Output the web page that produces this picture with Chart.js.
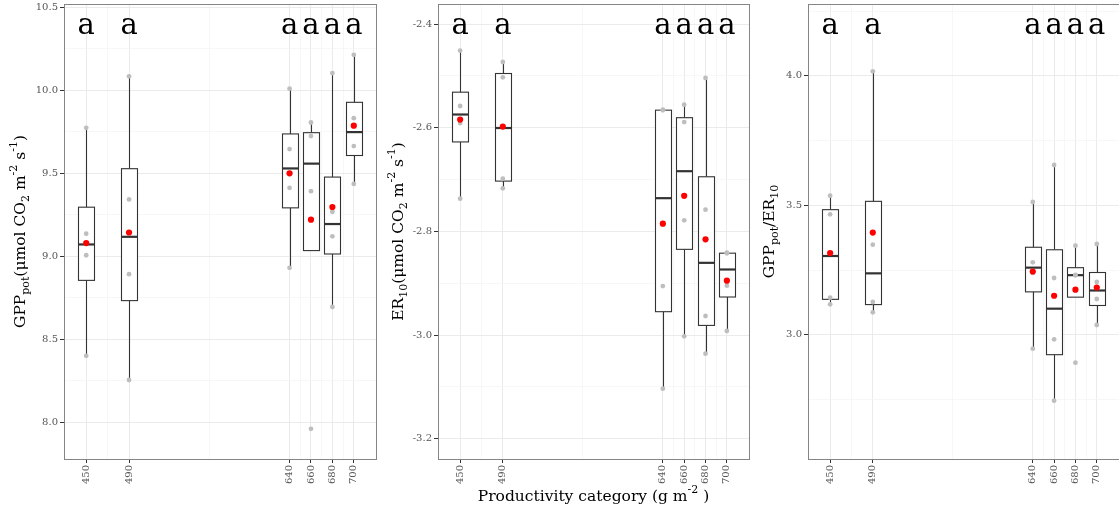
<!DOCTYPE html>
<html>
<head>
<meta charset="utf-8">
<script src="https://cdn.jsdelivr.net/npm/chart.js@4.4.0/dist/chart.umd.min.js"></script>
<style>
  body { margin: 0; background: #fff; overflow: hidden; width: 1119px; height: 512px; position: relative; }
  canvas { position: absolute; top: 0; }
</style>
</head>
<body>
<canvas id="gpp" width="380" height="512" style="left:0"></canvas>
<canvas id="er" width="375" height="512" style="left:380px"></canvas>
<canvas id="ratio" width="367" height="512" style="left:755px"></canvas>
<script>
// productivity categories (g m-2) and the breaks between them
const categories = [450, 490, 640, 660, 680, 700];
const minorBreaksX = [470, 565, 650, 670, 690];
const groupLetters = ['a', 'a', 'a', 'a', 'a', 'a'];

// four plots per category
const gppPot = [
  [9.774, 9.136, 9.006, 8.400],
  [10.084, 9.342, 8.892, 8.254],
  [10.010, 9.646, 9.412, 8.930],
  [9.806, 9.724, 9.392, 7.960],
  [10.104, 9.268, 9.120, 8.694],
  [10.214, 9.832, 9.664, 9.436]
];
const er10 = [
  [-2.4514, -2.5582, -2.5910, -2.7370],
  [-2.4733, -2.5029, -2.6984, -2.7170],
  [-2.5653, -2.5665, -2.9055, -3.1035],
  [-2.5556, -2.5891, -2.7788, -3.0026],
  [-2.5042, -2.7582, -2.9633, -3.0360],
  [-2.8413, -2.8424, -2.9048, -2.9923]
];
const gppEr = [
  [3.5373, 3.4653, 3.1435, 3.1178],
  [4.0174, 3.3481, 3.1268, 3.0869],
  [3.5129, 3.2799, 3.2390, 2.9466],
  [3.6557, 3.2194, 2.9826, 2.7458],
  [3.3443, 3.2310, 3.2298, 2.8925],
  [3.3507, 3.2040, 3.1384, 3.0380]
];

const SERIF = '"DejaVu Serif", "Liberation Serif", serif';
const boxHalf = 7.5;
Chart.defaults.font.family = SERIF;
Chart.defaults.animation = false;

function quantile(sorted, p) {
  const h = (sorted.length - 1) * p, lo = Math.floor(h);
  if (lo + 1 >= sorted.length) return sorted[lo];
  return sorted[lo] + (h - lo) * (sorted[lo + 1] - sorted[lo]);
}

function boxStats(vals) {
  const s = vals.slice().sort((a, b) => a - b);
  const q1 = quantile(s, 0.25), med = quantile(s, 0.5), q3 = quantile(s, 0.75);
  const iqr = q3 - q1;
  const inside = s.filter(v => v >= q1 - 1.5 * iqr && v <= q3 + 1.5 * iqr);
  return { q1, med, q3, lo: Math.min(q1, inside[0]), hi: Math.max(q3, inside[inside.length - 1]) };
}

const mean = v => v.reduce((a, b) => a + b, 0) / v.length;
const near = (a, b) => Math.abs(a - b) < 1e-6;

// text with sub/superscript pieces, centred on (x, y)
function drawRich(ctx, parts, x, y, size, rotate) {
  ctx.save();
  ctx.translate(x, y);
  if (rotate) ctx.rotate(-Math.PI / 2);
  const small = Math.round(size * 0.72);
  const fontOf = p => (p[1] ? small : size) + 'px ' + SERIF;
  const widths = parts.map(p => { ctx.font = fontOf(p); return ctx.measureText(p[0]).width; });
  let cx = -widths.reduce((a, b) => a + b, 0) / 2;
  ctx.textAlign = 'left';
  ctx.textBaseline = 'middle';
  ctx.fillStyle = '#000';
  parts.forEach((p, i) => {
    ctx.font = fontOf(p);
    const dy = p[1] === 'sub' ? size * 0.32 : p[1] === 'sup' ? -size * 0.42 : 0;
    ctx.fillText(p[0], cx, dy);
    cx += widths[i];
  });
  ctx.restore();
}

function makePanel(p) {
  const points = [];
  p.values.forEach((v, i) => v.forEach(val => points.push({ x: categories[i], y: val })));
  const means = p.values.map((v, i) => ({ x: categories[i], y: mean(v) }));

  const yTicks = [];
  for (let v = Math.ceil(p.yMin / p.yMinor - 1e-9) * p.yMinor; v <= p.yMax + 1e-9; v += p.yMinor) {
    yTicks.push(Math.round(v * 1e6) / 1e6);
  }
  const isMajorY = v => near(v / p.yMajor, Math.round(v / p.yMajor));
  const isMajorX = v => categories.includes(v);

  const panelPlugin = {
    id: 'panel_' + p.id,
    beforeDatasetsDraw(chart) {
      const { ctx, scales: { x, y } } = chart;
      ctx.save();
      p.values.forEach((v, i) => {
        const s = boxStats(v);
        const cx = Math.round(x.getPixelForValue(categories[i])) + 0.5;
        const l = Math.round(x.getPixelForValue(categories[i] - boxHalf)) + 0.5;
        const r = Math.round(x.getPixelForValue(categories[i] + boxHalf)) + 0.5;
        const py = val => y.getPixelForValue(val);
        ctx.strokeStyle = '#333';
        ctx.lineWidth = 1.1;
        ctx.beginPath();
        ctx.moveTo(cx, py(s.hi)); ctx.lineTo(cx, py(s.q3));
        ctx.moveTo(cx, py(s.q1)); ctx.lineTo(cx, py(s.lo));
        ctx.stroke();
        ctx.fillStyle = '#fff';
        ctx.fillRect(l, py(s.q3), r - l, py(s.q1) - py(s.q3));
        ctx.strokeRect(l, py(s.q3), r - l, py(s.q1) - py(s.q3));
        ctx.lineWidth = 2.2;
        ctx.beginPath();
        ctx.moveTo(l, py(s.med)); ctx.lineTo(r, py(s.med));
        ctx.stroke();
      });
      ctx.restore();
    },
    afterDraw(chart) {
      const { ctx, chartArea: a, scales: { x, y } } = chart;
      ctx.save();
      // panel border
      ctx.strokeStyle = '#858585';
      ctx.lineWidth = 1;
      ctx.strokeRect(Math.round(a.left) + 0.5, Math.round(a.top) + 0.5,
        Math.round(a.right - a.left), Math.round(a.bottom - a.top));
      // group letters
      ctx.fillStyle = '#000';
      ctx.font = '29px ' + SERIF;
      ctx.textAlign = 'center';
      ctx.textBaseline = 'alphabetic';
      groupLetters.forEach((t, i) => ctx.fillText(t, x.getPixelForValue(categories[i]), y.getPixelForValue(p.letterY)));
      ctx.restore();
      drawRich(ctx, p.title, p.titleX, (a.top + a.bottom) / 2, 15.5, true);
      if (p.xTitle) drawRich(ctx, p.xTitle, (a.left + a.right) / 2, 497, 15.5, false);
    }
  };

  const tickFont = { family: SERIF, size: 10 };
  new Chart(document.getElementById(p.id), {
    type: 'scatter',
    data: {
      datasets: [
        { data: means, backgroundColor: '#ff0000', pointRadius: 3.1, pointBorderWidth: 0, pointHoverRadius: 3.1, order: 0 },
        { data: points, backgroundColor: '#bebebe', pointRadius: 2.4, pointBorderWidth: 0, pointHoverRadius: 2.4, order: 1 }
      ]
    },
    options: {
      responsive: false,
      devicePixelRatio: 1,
      events: [],
      layout: { padding: { left: 0, right: p.padRight, top: 4, bottom: 0 } },
      plugins: { legend: { display: false }, tooltip: { enabled: false } },
      scales: {
        x: {
          type: 'linear', min: 429.25, max: 720.75,
          afterBuildTicks: s => { s.ticks = categories.concat(minorBreaksX).sort((a, b) => a - b).map(v => ({ value: v })); },
          afterFit: s => { s.height = 53; s.paddingLeft = 0; s.paddingRight = 0; },
          border: { display: false },
          grid: {
            color: c => isMajorX(c.tick.value) ? '#ebebeb' : '#f3f3f3',
            lineWidth: c => isMajorX(c.tick.value) ? 1 : 0.7,
            tickColor: c => isMajorX(c.tick.value) ? '#333' : 'rgba(0,0,0,0)',
            tickLength: 4, tickWidth: 1
          },
          ticks: {
            autoSkip: false, minRotation: 90, maxRotation: 90, padding: 2,
            color: '#555', font: tickFont,
            callback: v => isMajorX(v) ? String(v) : ''
          }
        },
        y: {
          type: 'linear', min: p.yMin, max: p.yMax,
          afterBuildTicks: s => { s.ticks = yTicks.map(v => ({ value: v })); },
          afterFit: s => { s.width = p.axisWidth; s.paddingTop = 0; s.paddingBottom = 0; },
          border: { display: false },
          grid: {
            color: c => isMajorY(c.tick.value) ? '#ebebeb' : '#f3f3f3',
            lineWidth: c => isMajorY(c.tick.value) ? 1 : 0.7,
            tickColor: c => isMajorY(c.tick.value) ? '#333' : 'rgba(0,0,0,0)',
            tickLength: 4, tickWidth: 1
          },
          ticks: {
            autoSkip: false, padding: 2, color: '#555', font: tickFont,
            callback: v => isMajorY(v) ? v.toFixed(1) : ''
          }
        }
      }
    },
    plugins: [panelPlugin]
  });
}

makePanel({
  id: 'gpp', values: gppPot, yMin: 7.778, yMax: 10.52, yMajor: 0.5, yMinor: 0.25,
  letterY: 10.337, axisWidth: 64, padRight: 4, titleX: 21,
  title: [['GPP'], ['pot', 'sub'], ['(\u03bcmol CO'], ['2', 'sub'], [' m'], ['-2', 'sup'], [' s'], ['-1', 'sup'], [')']]
});
makePanel({
  id: 'er', values: er10, yMin: -3.2392, yMax: -2.3614, yMajor: 0.2, yMinor: 0.1,
  letterY: -2.42, axisWidth: 58, padRight: 6, titleX: 19,
  title: [['ER'], ['10', 'sub'], ['(\u03bcmol CO'], ['2', 'sub'], [' m'], ['-2', 'sup'], [' s'], ['-1', 'sup'], [')']],
  xTitle: [['Productivity category (g m'], ['-2', 'sup'], [' )']]
});
makePanel({
  id: 'ratio', values: gppEr, yMin: 2.5206, yMax: 4.2774, yMajor: 0.5, yMinor: 0.25,
  letterY: 4.161, axisWidth: 53, padRight: 2, titleX: 15,
  title: [['GPP'], ['pot', 'sub'], ['/ER'], ['10', 'sub']]
});
</script>
</body>
</html>
